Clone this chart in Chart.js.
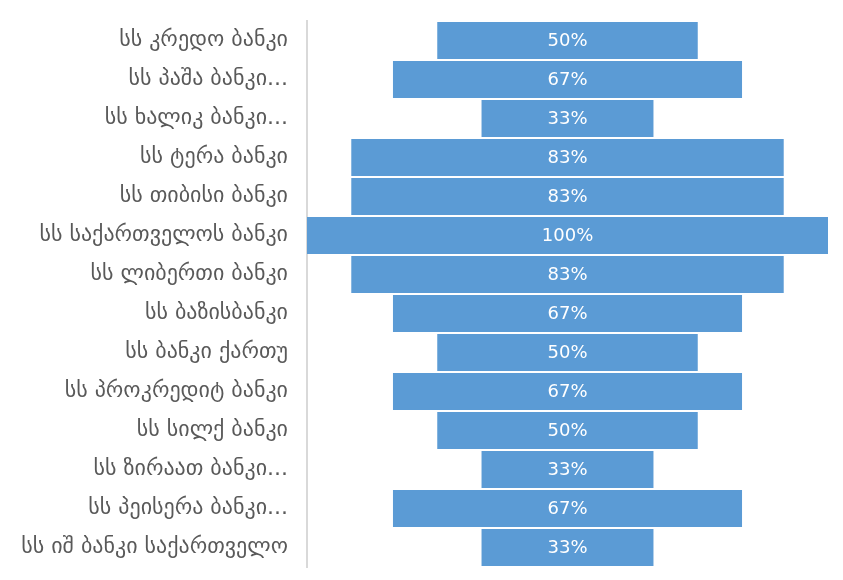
<!DOCTYPE html>
<html>
<head>
<meta charset="utf-8">
<script src="https://cdn.jsdelivr.net/npm/chart.js@4/dist/chart.umd.min.js"></script>
<style>
  html, body { margin: 0; padding: 0; background: #ffffff; }
  #wrap { width: 843px; height: 580px; position: relative; }
</style>
</head>
<body>
<div id="wrap"><canvas id="chart"></canvas></div>
<script>
// banks, top to bottom
const banks = [
  'სს კრედო ბანკი',
  'სს პაშა ბანკი...',
  'სს ხალიკ ბანკი...',
  'სს ტერა ბანკი',
  'სს თიბისი ბანკი',
  'სს საქართველოს ბანკი',
  'სს ლიბერთი ბანკი',
  'სს ბაზისბანკი',
  'სს ბანკი ქართუ',
  'სს პროკრედიტ ბანკი',
  'სს სილქ ბანკი',
  'სს ზირაათ ბანკი...',
  'სს პეისერა ბანკი...',
  'სს იშ ბანკი საქართველო'
];
const shares = [50, 67, 33, 83, 83, 100, 83, 67, 50, 67, 50, 33, 67, 33];

const FONT = '"DejaVu Sans", sans-serif';

// centred bars, like a funnel
const barData = shares.map(v => [-v / 2, v / 2]);

const valueLabels = {
  id: 'valueLabels',
  afterDatasetsDraw(chart) {
    const ctx = chart.ctx;
    const meta = chart.getDatasetMeta(0);
    const xs = chart.scales.x;
    ctx.save();
    ctx.fillStyle = '#ffffff';
    ctx.font = '18px ' + FONT;
    ctx.textAlign = 'center';
    ctx.textBaseline = 'middle';
    meta.data.forEach((bar, i) => {
      ctx.fillText(shares[i] + '%', xs.getPixelForValue(0), bar.y + 1);
    });
    ctx.restore();
  }
};

new Chart(document.getElementById('chart'), {
  type: 'bar',
  data: {
    labels: banks,
    datasets: [{
      data: barData,
      backgroundColor: '#5b9bd5',
      borderWidth: 0,
      barPercentage: 0.95,
      categoryPercentage: 1.0
    }]
  },
  options: {
    indexAxis: 'y',
    responsive: true,
    maintainAspectRatio: false,
    animation: false,
    layout: { padding: { top: 21, bottom: 13, right: 15, left: 0 } },
    plugins: {
      legend: { display: false },
      tooltip: { enabled: false }
    },
    scales: {
      x: {
        min: -50,
        max: 50,
        display: false
      },
      y: {
        grid: { display: false },
        border: { display: true, color: '#d9d9d9', width: 2 },
        ticks: {
          color: '#595959',
          font: { family: FONT, size: 22 },
          padding: 11
        },
        afterFit(scale) {
          scale.width = 307;
          scale.paddingTop = 0;
          scale.paddingBottom = 0;
        }
      }
    }
  },
  plugins: [valueLabels]
});
</script>
</body>
</html>
